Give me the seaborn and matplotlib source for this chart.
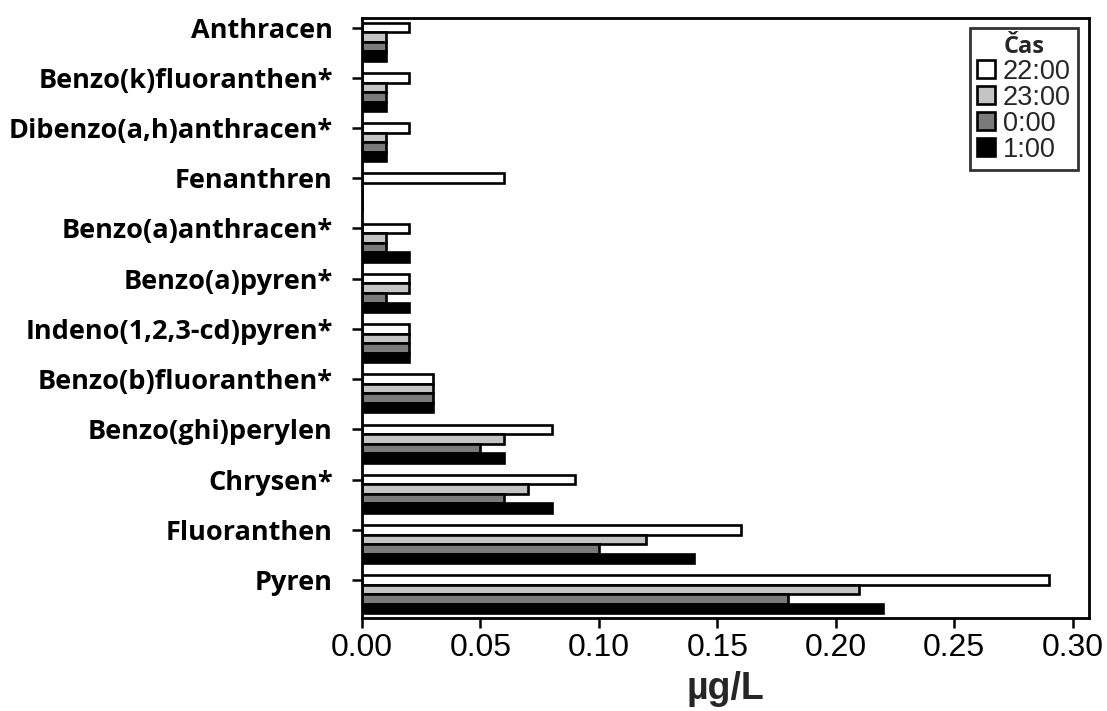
import matplotlib
matplotlib.use("Agg")
import matplotlib.pyplot as plt
import seaborn as sns
import pandas as pd

compounds = ["Anthracen", "Benzo(k)fluoranthen*", "Dibenzo(a,h)anthracen*", "Fenanthren",
             "Benzo(a)anthracen*", "Benzo(a)pyren*", "Indeno(1,2,3-cd)pyren*",
             "Benzo(b)fluoranthen*", "Benzo(ghi)perylen", "Chrysen*", "Fluoranthen", "Pyren"]
times = ["22:00", "23:00", "0:00", "1:00"]
v_2200 = [0.02, 0.02, 0.02, 0.06, 0.02, 0.02, 0.02, 0.03, 0.08, 0.09, 0.16, 0.29]
v_2300 = [0.01, 0.01, 0.01, 0.00, 0.01, 0.02, 0.02, 0.03, 0.06, 0.07, 0.12, 0.21]
v_0000 = [0.01, 0.01, 0.01, 0.00, 0.01, 0.01, 0.02, 0.03, 0.05, 0.06, 0.10, 0.18]
v_0100 = [0.01, 0.01, 0.01, 0.00, 0.02, 0.02, 0.02, 0.03, 0.06, 0.08, 0.14, 0.22]
colors = ["#ffffff", "#c4c4c4", "#7a7a7a", "#000000"]

rows = []
for t, vals in zip(times, [v_2200, v_2300, v_0000, v_0100]):
    for c, v in zip(compounds, vals):
        rows.append({"compound": c, "time": t, "value": v})
df = pd.DataFrame(rows)

sns.set_theme(style="white")
plt.rcParams['font.family'] = ['Liberation Sans', 'DejaVu Sans']

fig = plt.figure(figsize=(11.07, 7.11), dpi=100)
ax = fig.add_axes([0.327, 0.131, 0.657, 0.844])

W = 0.76
sns.barplot(data=df, y="compound", x="value", hue="time", order=compounds,
            hue_order=times, palette=colors, orient="h", width=W, dodge=True,
            edgecolor="black", linewidth=1.9, saturation=1, errorbar=None, ax=ax)

ax.set_xlim(0, 0.307)
ax.set_ylim(11.47, -0.48)
ax.set_xticks([0.0, 0.05, 0.10, 0.15, 0.20, 0.25, 0.30])
ax.set_xticklabels(["0.00", "0.05", "0.10", "0.15", "0.20", "0.25", "0.30"], fontsize=23)
off = -W / 2 + W / 8
ax.set_yticks([i + off for i in range(len(compounds))])
ax.set_yticklabels(compounds, fontsize=19.5, fontweight="bold", family=["Open Sans", "DejaVu Sans"])
ax.tick_params(axis="both", which="both", direction="out", length=7, width=1.8,
               color="black", left=True, bottom=True, labelcolor="black")
ax.tick_params(axis="y", pad=14)
ax.tick_params(axis="x", pad=4)
ax.set_ylabel("")
ax.set_xlabel("µg/L", fontsize=27, fontweight="bold", labelpad=6)
for s in ax.spines.values():
    s.set_visible(True)
    s.set_color("black")
    s.set_linewidth(2)

leg = ax.legend(title="Čas", loc="upper right", bbox_to_anchor=(0.984, 0.983),
                fontsize=19.5, frameon=True, fancybox=False, edgecolor="black",
                handlelength=0.65, handleheight=0.65, handletextpad=0.3,
                labelspacing=0.0, borderpad=0.25, borderaxespad=0)
leg.get_title().set_fontweight("bold")
leg.get_title().set_fontsize(17)
leg.get_title().set_family(["Open Sans", "DejaVu Sans"])
leg.get_frame().set_linewidth(2)

fig.savefig("out.png", dpi=100)
